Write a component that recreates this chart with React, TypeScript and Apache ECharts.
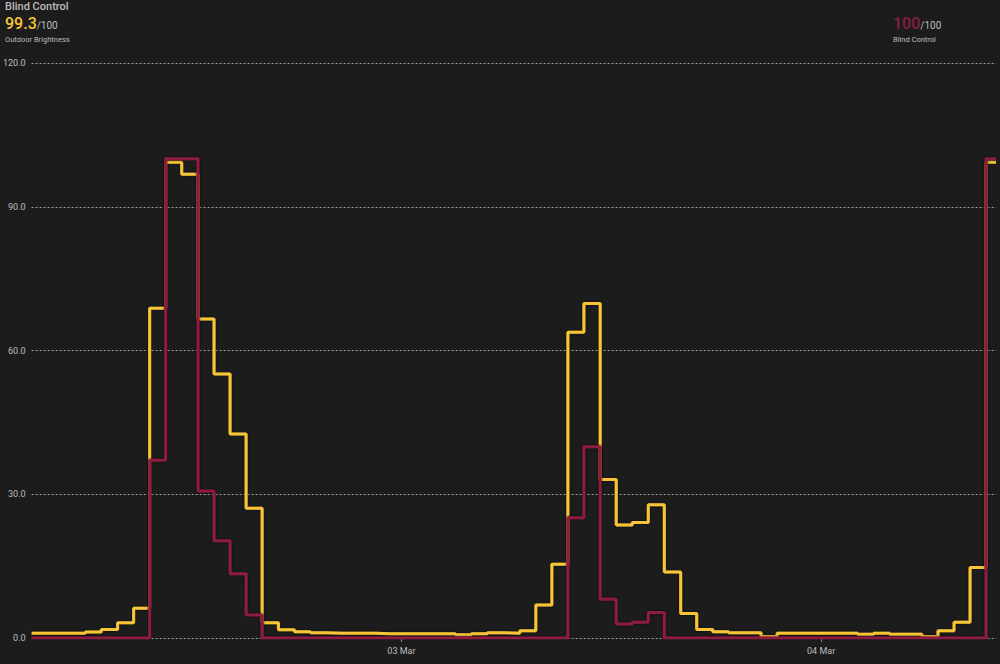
import React, { useEffect, useRef } from 'react';
import * as echarts from 'echarts';

const times = [
  '2025-03-02 02:51',
  '2025-03-02 05:55', '2025-03-02 06:50', '2025-03-02 07:46', '2025-03-02 08:41',
  '2025-03-02 09:36', '2025-03-02 10:31', '2025-03-02 11:26', '2025-03-02 12:22', '2025-03-02 13:17',
  '2025-03-02 14:12', '2025-03-02 15:07', '2025-03-02 16:02', '2025-03-02 16:58', '2025-03-02 17:53',
  '2025-03-02 18:48', '2025-03-02 19:43', '2025-03-02 20:38', '2025-03-02 21:34', '2025-03-02 22:29',
  '2025-03-02 23:24',
  '2025-03-03 00:19', '2025-03-03 01:14', '2025-03-03 02:10', '2025-03-03 03:05', '2025-03-03 04:00',
  '2025-03-03 04:55', '2025-03-03 05:50', '2025-03-03 06:46', '2025-03-03 07:41', '2025-03-03 08:36',
  '2025-03-03 09:31', '2025-03-03 10:26', '2025-03-03 11:22', '2025-03-03 12:17', '2025-03-03 13:12',
  '2025-03-03 14:07', '2025-03-03 15:02', '2025-03-03 15:58', '2025-03-03 16:53', '2025-03-03 17:48',
  '2025-03-03 18:43', '2025-03-03 19:38', '2025-03-03 20:34', '2025-03-03 21:29', '2025-03-03 22:24',
  '2025-03-03 23:19',
  '2025-03-04 00:14', '2025-03-04 01:10', '2025-03-04 02:05', '2025-03-04 03:00', '2025-03-04 03:55',
  '2025-03-04 04:50', '2025-03-04 05:46', '2025-03-04 06:41', '2025-03-04 07:36', '2025-03-04 08:31',
  '2025-03-04 09:26', '2025-03-04 10:00',
];

const outdoorBrightness = [
  1.0,
  1.25, 1.8, 3.2, 6.2,
  68.8, 99.3, 96.8, 66.6, 55.1, 42.6, 27.1,
  3.2, 1.7, 1.3, 1.1, 1.0, 1.0, 1.0, 0.9, 0.9,
  0.9, 0.9, 0.9, 0.7, 0.9, 1.1, 1.0, 1.5, 6.9, 15.4,
  63.8, 69.8, 33.1, 23.6, 24.1, 27.8, 13.8, 5.1, 1.8, 1.3, 1.1, 1.1, 0.3, 1.0, 1.0, 1.0,
  1.0, 1.0, 0.8, 1.0, 0.8, 0.8, 0.3, 1.5, 3.3, 14.7, 99.3,
  99.3,
];

const blindControl = [
  0,
  0, 0, 0, 0,
  37.1, 100, 100, 30.7, 20.3, 13.4, 4.8,
  0, 0, 0, 0, 0, 0, 0, 0, 0,
  0, 0, 0, 0, 0, 0, 0, 0, 0, 0,
  25.1, 39.9, 8.1, 2.9, 3.3, 5.3, 0, 0, 0, 0, 0, 0, 0, 0, 0, 0,
  0, 0, 0, 0, 0, 0, 0, 0, 0, 0, 100,
  100,
];

const xMin = '2025-03-02 02:51';
const xMax = '2025-03-04 10:00';
const yMin = 0;
const yMax = 120;
const yInterval = 30;
const monthNames = ['Jan', 'Feb', 'Mar', 'Apr', 'May', 'Jun', 'Jul', 'Aug', 'Sep', 'Oct', 'Nov', 'Dec'];

const YELLOW = '#f8c537';
const RED = '#8c1c40';
const TEXT = '#bdbdbd';
const FONT = 'Roboto, "Noto Sans", sans-serif';

export default function App() {
  const ref = useRef<HTMLDivElement>(null);

  useEffect(() => {
    document.body.style.margin = '0';
    const chart = echarts.init(ref.current!, null, { renderer: 'svg' });
    const lastY = outdoorBrightness[outdoorBrightness.length - 1];
    const lastR = blindControl[blindControl.length - 1];
    chart.setOption({
      animation: false,
      backgroundColor: '#1c1c1c',
      textStyle: { fontFamily: FONT },
      grid: { left: 30, right: 4, top: 63, bottom: 26 },
      xAxis: {
        type: 'time',
        min: xMin,
        max: xMax,
        minInterval: 24 * 3600 * 1000,
        axisLine: { show: false },
        axisTick: { show: true, length: 4, lineStyle: { color: '#8a8a8a' } },
        splitLine: { show: false },
        axisLabel: {
          color: TEXT,
          fontSize: 9,
          margin: 8,
          showMinLabel: false,
          showMaxLabel: false,
          formatter: (v: number) => {
            const d = new Date(v);
            if (d.getHours() !== 0 || d.getMinutes() !== 0) return '';
            const dd = String(d.getDate()).padStart(2, '0');
            return dd + ' ' + monthNames[d.getMonth()];
          },
        },
      },
      yAxis: {
        type: 'value',
        min: yMin,
        max: yMax,
        interval: yInterval,
        axisLine: { show: false },
        axisTick: { show: false },
        axisLabel: {
          color: TEXT,
          fontSize: 9,
          margin: 6,
          formatter: (v: number) => v.toFixed(1),
        },
        splitLine: { show: true, lineStyle: { color: '#a0a0a0', type: [2, 2], width: 1 } },
      },
      series: [
        {
          name: 'Outdoor Brightness',
          type: 'line',
          step: 'end',
          showSymbol: false,
          data: times.map((t, i) => [t, outdoorBrightness[i]]),
          lineStyle: { color: YELLOW, width: 3, shadowColor: 'rgba(0,0,0,0.7)', shadowBlur: 2 },
          itemStyle: { color: YELLOW },
          z: 2,
        },
        {
          name: 'Blind Control',
          type: 'line',
          step: 'end',
          showSymbol: false,
          data: times.map((t, i) => [t, blindControl[i]]),
          lineStyle: { color: RED, width: 3, shadowColor: 'rgba(0,0,0,0.7)', shadowBlur: 2 },
          itemStyle: { color: RED },
          z: 3,
        },
      ],
      graphic: [
        {
          type: 'text',
          left: 5,
          top: 1,
          style: { text: 'Blind Control', fill: TEXT, fontSize: 11, fontWeight: 500, fontFamily: FONT },
        },
        {
          type: 'text',
          left: 5,
          top: 15,
          style: {
            text: '{v|' + lastY.toFixed(1) + '}{u|/100}',
            fontFamily: FONT,
            rich: {
              v: { fill: YELLOW, fontSize: 16, fontWeight: 500, fontFamily: FONT },
              u: { fill: TEXT, fontSize: 10, fontFamily: FONT, padding: [4, 0, 0, 0] },
            },
          },
        },
        {
          type: 'text',
          left: 5,
          top: 35,
          style: { text: 'Outdoor Brightness', fill: TEXT, fontSize: 7.5, fontFamily: FONT },
        },
        {
          type: 'text',
          left: 893,
          top: 15,
          style: {
            text: '{v|' + String(lastR) + '}{u|/100}',
            fontFamily: FONT,
            rich: {
              v: { fill: RED, fontSize: 16, fontWeight: 500, fontFamily: FONT },
              u: { fill: TEXT, fontSize: 10, fontFamily: FONT, padding: [4, 0, 0, 0] },
            },
          },
        },
        {
          type: 'text',
          left: 893,
          top: 35,
          style: { text: 'Blind Control', fill: TEXT, fontSize: 7.5, fontFamily: FONT },
        },
      ],
    });
    return () => chart.dispose();
  }, []);

  return <div ref={ref} style={{ position: 'fixed', left: 0, top: 0, width: 1000, height: 664 }} />;
}
